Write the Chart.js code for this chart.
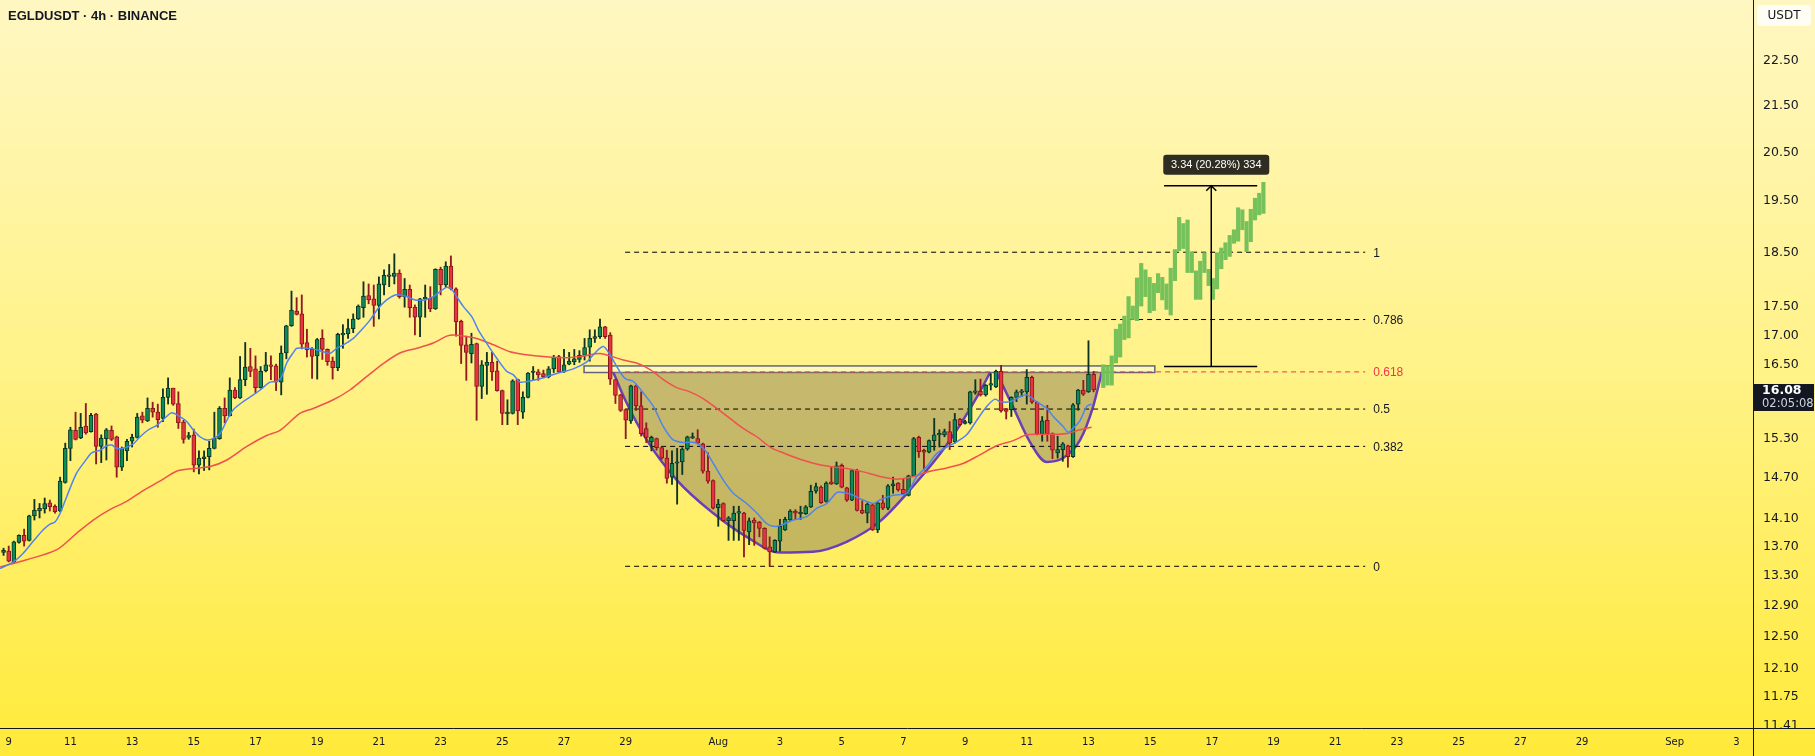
<!DOCTYPE html>
<html>
<head>
<meta charset="utf-8">
<title>EGLDUSDT 4h BINANCE</title>
<script src="https://cdn.jsdelivr.net/npm/chart.js@4.4.1/dist/chart.umd.min.js"></script>
<style>
  html, body { margin: 0; padding: 0; overflow: hidden; background: #fff7c0; }
  #wrap { width: 1815px; height: 756px; }
</style>
</head>
<body>
<div id="wrap"><canvas id="chart" width="1815" height="756"></canvas></div>
<script>
// ---- data (x in days: 1 = Jul 1, 32 = Aug 1, 63 = Sep 1) ----
const tickDays   = [9, 11, 13, 15, 17, 19, 21, 23, 25, 27, 29, 32, 34, 36, 38, 40, 42, 44, 46, 48, 50, 52, 54, 56, 58, 60, 63, 65];
const tickLabels = ['9', '11', '13', '15', '17', '19', '21', '23', '25', '27', '29', 'Aug', '3', '5', '7', '9', '11', '13', '15', '17', '19', '21', '23', '25', '27', '29', 'Sep', '3'];
const priceTicks = [22.5, 21.5, 20.5, 19.5, 18.5, 17.5, 17, 16.5, 15.3, 14.7, 14.1, 13.7, 13.3, 12.9, 12.5, 12.1, 11.75, 11.41];

// 4h candles, first one Jul 8 20:00, last one Aug 13 04:00
const candleStart = 8.8333;
const candleStep  = 1 / 6;
const candleOpen = [
  13.62, 13.64, 13.49, 13.76, 13.86, 13.79, 14.14, 14.21, 14.24, 14.33,
  14.28, 14.21, 14.63, 15.15, 15.43, 15.31, 15.50, 15.41, 15.69, 15.18,
  15.30, 15.43, 15.33, 14.86, 15.11, 15.26, 15.32, 15.66, 15.58, 15.78,
  15.72, 15.62, 15.96, 16.11, 15.86, 15.56, 15.32, 15.36, 14.89, 14.99,
  15.02, 15.15, 15.30, 15.78, 15.66, 16.08, 15.95, 16.25, 16.47, 16.43,
  16.12, 16.40, 16.50, 16.48, 16.21, 16.70, 17.17, 17.43, 17.38, 16.88,
  16.76, 16.65, 16.95, 16.76, 16.56, 16.45, 17.01, 17.03, 17.12, 17.29,
  17.49, 17.71, 17.65, 17.53, 17.90, 18.06, 18.06, 18.12, 17.69, 17.82,
  17.50, 17.32, 17.65, 17.66, 17.47, 18.19, 17.90, 18.25, 17.83, 17.25,
  16.84, 16.69, 16.86, 16.14, 16.49, 16.54, 16.40, 16.07, 15.69, 15.70,
  16.25, 15.72, 15.96, 16.37, 16.38, 16.35, 16.30, 16.43, 16.64, 16.38,
  16.51, 16.55, 16.59, 16.66, 16.80, 16.95, 16.98, 17.15, 17.01, 16.25,
  16.00, 15.76, 15.58, 16.15, 15.82, 15.46, 15.25, 15.30, 15.16, 15.00,
  14.71, 14.92, 14.94, 15.14, 15.31, 15.30, 15.22, 14.80, 14.66, 14.26,
  14.32, 14.07, 14.07, 14.18, 14.18, 13.91, 14.08, 14.05, 13.96, 13.70,
  13.63, 13.78, 13.94, 14.08, 14.21, 14.17, 14.17, 14.27, 14.50, 14.56,
  14.35, 14.64, 14.61, 14.89, 14.55, 14.37, 14.81, 14.22, 14.18, 14.30,
  13.94, 14.33, 14.25, 14.58, 14.62, 14.53, 14.44, 14.73, 15.32, 15.12,
  15.09, 15.27, 15.36, 15.36, 15.41, 15.25, 15.61, 15.54, 15.55, 16.04,
  16.06, 16.00, 16.16, 16.13, 16.39, 15.77, 15.76, 15.96, 16.04, 16.05,
  16.29, 15.88, 15.38, 15.59, 15.38, 15.08, 15.13, 15.19, 15.02, 15.85,
  16.08, 16.05, 16.34
];
const candleHigh = [
  13.68, 13.71, 13.78, 13.87, 13.95, 14.15, 14.38, 14.32, 14.40, 14.37,
  14.30, 14.71, 15.23, 15.48, 15.72, 15.70, 15.86, 15.70, 15.70, 15.36,
  15.46, 15.50, 15.34, 15.17, 15.29, 15.37, 15.70, 15.72, 15.95, 15.88,
  15.85, 16.10, 16.28, 16.11, 16.05, 15.59, 15.40, 15.45, 15.11, 15.11,
  15.26, 15.72, 15.81, 15.95, 16.28, 16.12, 16.64, 16.88, 16.78, 16.65,
  16.47, 16.71, 16.65, 16.51, 16.82, 17.18, 17.79, 17.67, 17.72, 17.11,
  16.79, 16.95, 17.10, 16.77, 16.63, 17.04, 17.19, 17.29, 17.38, 17.54,
  17.96, 17.92, 17.90, 18.05, 18.18, 18.28, 18.48, 18.18, 18.02, 17.90,
  17.54, 17.66, 17.90, 17.87, 18.20, 18.23, 18.33, 18.44, 17.85, 17.27,
  16.99, 17.04, 16.87, 16.57, 16.71, 16.71, 16.56, 16.08, 15.92, 16.25,
  16.26, 16.05, 16.37, 16.47, 16.42, 16.41, 16.47, 16.66, 16.66, 16.76,
  16.71, 16.76, 16.74, 16.95, 17.10, 17.10, 17.29, 17.16, 17.05, 16.25,
  16.01, 15.77, 16.16, 16.16, 16.05, 15.55, 15.34, 15.31, 15.17, 15.12,
  15.11, 15.15, 15.16, 15.34, 15.39, 15.44, 15.23, 15.08, 14.67, 14.38,
  14.33, 14.13, 14.28, 14.28, 14.19, 14.11, 14.11, 14.06, 13.97, 13.84,
  13.80, 14.09, 14.12, 14.23, 14.23, 14.28, 14.29, 14.59, 14.62, 14.58,
  14.64, 14.87, 14.94, 14.91, 14.56, 14.82, 14.83, 14.36, 14.33, 14.31,
  14.35, 14.44, 14.60, 14.71, 14.63, 14.68, 14.74, 15.32, 15.34, 15.14,
  15.28, 15.62, 15.44, 15.45, 15.57, 15.70, 15.62, 15.59, 16.06, 16.25,
  16.26, 16.17, 16.35, 16.41, 16.49, 15.78, 15.97, 16.08, 16.09, 16.42,
  16.31, 15.89, 15.65, 15.83, 15.39, 15.34, 15.24, 15.20, 15.86, 16.09,
  16.24, 16.91, 16.39
];
const candleLow = [
  13.58, 13.49, 13.48, 13.75, 13.71, 13.78, 14.08, 14.11, 14.18, 14.21,
  14.18, 14.20, 14.62, 14.96, 15.28, 15.30, 15.37, 15.40, 14.91, 14.93,
  14.97, 15.27, 14.71, 14.81, 14.96, 15.17, 15.31, 15.55, 15.57, 15.64,
  15.48, 15.57, 15.85, 15.83, 15.46, 15.23, 15.29, 14.79, 14.76, 14.81,
  14.82, 15.14, 15.29, 15.55, 15.66, 15.94, 15.94, 16.15, 16.30, 16.03,
  16.11, 16.38, 16.25, 16.07, 16.00, 16.60, 17.16, 17.36, 16.77, 16.63,
  16.27, 16.26, 16.59, 16.49, 16.26, 16.40, 16.78, 16.95, 17.05, 17.28,
  17.32, 17.56, 17.16, 17.29, 17.72, 17.87, 17.92, 17.66, 17.50, 17.32,
  17.01, 16.98, 17.32, 17.42, 17.46, 17.72, 17.87, 17.81, 16.99, 16.52,
  16.24, 16.53, 15.59, 15.94, 16.01, 16.24, 16.06, 15.52, 15.52, 15.69,
  15.52, 15.62, 15.95, 16.24, 16.24, 16.28, 16.28, 16.37, 16.37, 16.37,
  16.50, 16.50, 16.54, 16.58, 16.56, 16.88, 16.95, 16.95, 16.17, 15.86,
  15.73, 15.30, 15.54, 15.75, 15.34, 15.24, 15.11, 15.12, 14.98, 14.62,
  14.60, 14.31, 14.75, 15.12, 15.30, 15.22, 14.77, 14.62, 14.24, 13.99,
  14.06, 13.79, 13.79, 13.79, 13.56, 13.73, 13.72, 13.84, 13.67, 13.43,
  13.62, 13.64, 13.93, 14.07, 14.09, 14.09, 14.16, 14.26, 14.47, 14.32,
  14.34, 14.60, 14.60, 14.55, 14.35, 14.36, 14.21, 14.17, 14.04, 13.93,
  13.90, 14.23, 14.23, 14.47, 14.50, 14.45, 14.43, 14.72, 15.01, 14.82,
  15.08, 15.12, 15.17, 15.33, 15.13, 15.23, 15.50, 15.53, 15.53, 16.01,
  15.98, 15.98, 16.08, 16.12, 15.72, 15.61, 15.65, 15.89, 15.97, 15.85,
  15.86, 15.36, 15.26, 15.26, 14.99, 15.00, 14.95, 14.86, 15.01, 15.75,
  15.99, 16.04, 16.05
];
const candleClose = [
  13.65, 13.50, 13.77, 13.86, 13.78, 14.14, 14.22, 14.25, 14.32, 14.27,
  14.20, 14.65, 15.15, 15.44, 15.29, 15.48, 15.39, 15.67, 15.18, 15.31,
  15.44, 15.29, 14.86, 15.15, 15.26, 15.32, 15.64, 15.59, 15.78, 15.72,
  15.60, 15.96, 16.11, 15.85, 15.55, 15.29, 15.35, 14.89, 15.00, 15.02,
  15.15, 15.31, 15.78, 15.66, 16.08, 15.95, 16.25, 16.46, 16.39, 16.12,
  16.39, 16.50, 16.47, 16.21, 16.70, 17.17, 17.45, 17.37, 16.85, 16.75,
  16.64, 16.93, 16.76, 16.55, 16.45, 17.02, 17.04, 17.12, 17.29, 17.52,
  17.70, 17.63, 17.53, 17.92, 18.08, 18.07, 18.12, 17.69, 17.82, 17.49,
  17.32, 17.65, 17.66, 17.47, 18.19, 17.90, 18.25, 17.83, 17.24, 16.83,
  16.71, 16.85, 16.14, 16.50, 16.54, 16.38, 16.07, 15.70, 15.72, 16.23,
  15.74, 15.96, 16.36, 16.39, 16.33, 16.30, 16.43, 16.62, 16.38, 16.50,
  16.56, 16.60, 16.66, 16.79, 16.95, 16.98, 17.15, 16.98, 16.26, 15.99,
  15.75, 15.59, 16.15, 15.82, 15.38, 15.32, 15.32, 15.16, 15.00, 14.69,
  14.92, 14.94, 15.14, 15.33, 15.32, 15.23, 14.80, 14.65, 14.25, 14.31,
  14.07, 14.11, 14.18, 14.19, 13.93, 14.07, 14.04, 13.96, 13.68, 13.63,
  13.79, 13.99, 14.09, 14.21, 14.18, 14.19, 14.27, 14.50, 14.57, 14.33,
  14.62, 14.61, 14.88, 14.56, 14.37, 14.81, 14.22, 14.18, 14.31, 13.94,
  14.33, 14.25, 14.58, 14.61, 14.52, 14.46, 14.73, 15.30, 15.10, 15.09,
  15.27, 15.36, 15.38, 15.41, 15.23, 15.60, 15.52, 15.57, 16.05, 16.06,
  16.00, 16.16, 16.17, 16.39, 15.74, 15.73, 15.96, 16.05, 16.06, 16.29,
  15.88, 15.38, 15.58, 15.38, 15.12, 15.13, 15.22, 15.02, 15.84, 16.08,
  16.01, 16.34, 16.08
];

// short EMA (blue) and long EMA (red), read as (day, price) points
const blueX = [8.72, 9.15, 9.47, 9.80, 10.12, 10.34, 10.50, 10.66, 10.88, 11.20, 11.47, 11.69, 11.96, 12.18, 12.34, 12.50, 12.71, 13.04, 13.26, 13.53, 13.80, 14.12, 14.28, 14.55, 14.77, 14.98, 15.20, 15.42, 15.63, 15.85, 16.07, 16.28, 16.60, 16.93, 17.15, 17.47, 17.69, 17.85, 18.01, 18.23, 18.34, 18.66, 18.87, 19.20, 19.41, 19.63, 19.85, 20.17, 20.44, 20.71, 20.98, 21.25, 21.52, 21.68, 21.90, 22.17, 22.49, 22.76, 22.98, 23.20, 23.36, 23.52, 23.74, 24.01, 24.22, 24.49, 24.82, 25.14, 25.36, 25.57, 25.79, 26.00, 26.44, 26.87, 27.30, 27.74, 27.95, 28.27, 28.49, 28.71, 28.98, 29.25, 29.57, 29.90, 30.22, 30.54, 30.87, 31.25, 31.57, 31.84, 32.16, 32.49, 32.92, 33.25, 33.57, 33.78, 34.00, 34.43, 34.87, 35.19, 35.52, 35.84, 36.06, 36.38, 36.70, 37.03, 37.24, 37.67, 38.11, 38.43, 38.76, 39.08, 39.41, 39.73, 40.05, 40.38, 40.70, 40.97, 41.13, 41.46, 41.78, 42.00, 42.32, 42.65, 42.86, 43.18, 43.35, 43.51, 43.73, 43.94, 44.10];
const blueY = [13.40, 13.49, 13.61, 13.78, 13.94, 14.02, 14.05, 14.17, 14.42, 14.77, 14.95, 15.08, 15.12, 15.19, 15.20, 15.15, 15.15, 15.22, 15.33, 15.44, 15.51, 15.65, 15.71, 15.65, 15.57, 15.44, 15.33, 15.28, 15.30, 15.38, 15.59, 15.76, 15.89, 16.00, 16.08, 16.21, 16.22, 16.30, 16.53, 16.71, 16.78, 16.78, 16.77, 16.72, 16.69, 16.78, 16.84, 16.95, 17.10, 17.27, 17.48, 17.63, 17.72, 17.72, 17.69, 17.63, 17.63, 17.69, 17.78, 17.86, 17.82, 17.69, 17.51, 17.33, 17.10, 16.87, 16.61, 16.39, 16.33, 16.21, 16.22, 16.24, 16.30, 16.37, 16.43, 16.55, 16.67, 16.81, 16.67, 16.47, 16.27, 16.22, 16.03, 15.81, 15.49, 15.28, 15.24, 15.24, 15.12, 14.92, 14.67, 14.47, 14.32, 14.18, 14.03, 13.99, 14.00, 14.08, 14.13, 14.25, 14.32, 14.48, 14.48, 14.44, 14.37, 14.32, 14.37, 14.44, 14.47, 14.72, 14.87, 15.07, 15.17, 15.25, 15.36, 15.59, 15.81, 15.93, 15.89, 15.89, 15.97, 16.00, 15.89, 15.78, 15.65, 15.49, 15.40, 15.47, 15.59, 15.81, 15.85];
const redX = [8.72, 9.58, 10.56, 11.20, 11.74, 12.28, 12.82, 13.36, 13.90, 14.44, 14.98, 15.53, 16.07, 16.72, 17.36, 17.79, 18.44, 18.87, 19.52, 20.06, 20.60, 21.14, 21.68, 22.23, 22.76, 23.20, 23.41, 23.74, 24.17, 24.71, 25.25, 25.79, 26.33, 27.09, 27.63, 28.17, 28.49, 28.92, 29.35, 29.79, 30.22, 30.65, 31.08, 31.51, 31.95, 32.38, 32.81, 33.25, 33.68, 34.00, 34.54, 35.08, 35.62, 36.16, 36.70, 37.24, 37.78, 38.32, 38.86, 39.41, 39.95, 40.48, 41.02, 41.56, 42.00, 42.32, 42.65, 42.97, 43.30, 43.73, 44.10];
const redY = [13.42, 13.52, 13.66, 13.89, 14.08, 14.23, 14.35, 14.51, 14.65, 14.80, 14.84, 14.87, 14.97, 15.18, 15.35, 15.43, 15.70, 15.78, 15.92, 16.08, 16.30, 16.52, 16.70, 16.78, 16.87, 16.99, 17.01, 16.99, 16.95, 16.84, 16.72, 16.67, 16.64, 16.62, 16.65, 16.69, 16.65, 16.58, 16.53, 16.42, 16.25, 16.12, 16.05, 15.94, 15.78, 15.62, 15.46, 15.33, 15.17, 15.10, 15.00, 14.92, 14.87, 14.84, 14.79, 14.72, 14.68, 14.72, 14.80, 14.85, 14.92, 15.05, 15.19, 15.27, 15.36, 15.37, 15.37, 15.37, 15.38, 15.44, 15.48];

// projected bars (light green)
const greenStart = 44.48;
const greenStep  = 0.1366;
const greenLow  = [16.12, 16.16, 16.16, 16.53, 16.63, 16.93, 16.96, 17.28, 17.26, 17.52, 17.69, 17.40, 17.44, 17.76, 17.63, 17.46, 17.36, 17.98, 18.54, 18.58, 18.13, 18.13, 17.64, 17.64, 18.13, 17.89, 17.64, 17.83, 18.20, 18.37, 18.43, 18.68, 18.72, 18.94, 18.52, 18.71, 19.13, 19.23, 19.26];
const greenHigh = [16.50, 16.48, 16.65, 17.11, 17.20, 17.34, 17.69, 17.52, 18.03, 18.30, 18.18, 18.04, 17.93, 18.11, 18.04, 17.92, 18.21, 18.56, 19.18, 19.06, 19.13, 18.52, 18.16, 18.34, 18.50, 18.19, 18.02, 18.50, 18.59, 18.69, 18.83, 18.94, 19.37, 19.33, 19.10, 19.34, 19.56, 19.66, 19.88];

// fib retracement
const fibLabels = ['1', '0.786', '0.618', '0.5', '0.382', '0'];
const fibPrices = [18.51, 17.28, 16.38, 15.77, 15.18, 13.43];
const fibX      = [28.98, 52.97];

// cup and handle outline
const cupX    = [28.60, 28.98, 29.68, 30.65, 31.83, 32.92, 34.00, 35.07, 36.16, 37.24, 38.31, 39.40, 40.48, 40.81];
const cupY    = [16.37, 15.92, 15.28, 14.67, 14.18, 13.84, 13.62, 13.63, 13.77, 14.06, 14.57, 15.20, 16.05, 16.37];
const handleX = [41.02, 41.55, 42.10, 42.65, 43.18, 43.73, 44.15, 44.43];
const handleY = [16.37, 15.81, 15.25, 14.94, 15.00, 15.28, 15.81, 16.37];
const rimPrice = 16.38;

// resistance box and price-range measure
const zoneX = [27.65, 46.15];
const zoneY = [16.37, 16.48];
const measureX   = [46.45, 49.47];
const measureMid = 47.98;
const measureLow = 16.47;
const measureHigh = 19.81;
const measureText = '3.34 (20.28%) 334';

const lastPrice = 16.08;
const lastPriceText = '16.08';
const countdownText = '02:05:08';

// ---- styles ----
const TEXT      = '#131722';
const UP_BODY   = '#0c8a5a';
const UP_EDGE   = '#0e3324';
const DOWN_BODY = '#e5343e';
const DOWN_EDGE = '#86171c';
const UP_WICK   = '#0e3324';
const DOWN_WICK = '#901a20';
const BLUE_MA   = '#4f84ee';
const RED_MA    = '#f0514e';
const PROJ      = '#76c15a';
const CUP_LINE  = '#6a3fb6';
const CUP_FILL  = 'rgba(140, 128, 88, 0.5)';
const FIB_RED   = '#f23645';

function bgGradient(ctx, h) {
    const g = ctx.createLinearGradient(0, 0, 0, h);
    g.addColorStop(0, '#fff7c2');
    g.addColorStop(0.5, '#fff286');
    g.addColorStop(1, '#ffea3a');
    return g;
}

const candleX = candleOpen.map((_, i) => candleStart + i * candleStep);
const isUp    = candleOpen.map((o, i) => candleClose[i] >= o);
const pts     = (xs, ys) => xs.map((x, i) => ({ x: x, y: ys[i] }));

const datasets = [
    // measure tool
    { type: 'line', data: [{ x: measureMid, y: measureLow }, { x: measureMid, y: measureHigh }], borderColor: '#000', borderWidth: 1.5, pointRadius: 0, order: 0 },
    { type: 'line', data: [{ x: measureX[0], y: measureLow }, { x: measureX[1], y: measureLow }], borderColor: '#000', borderWidth: 1.5, pointRadius: 0, order: 0 },
    { type: 'line', data: [{ x: measureX[0], y: measureHigh }, { x: measureX[1], y: measureHigh }], borderColor: '#000', borderWidth: 1.5, pointRadius: 0, order: 0 },
    // moving averages
    { type: 'line', data: pts(blueX, blueY), borderColor: BLUE_MA, borderWidth: 1.5, pointRadius: 0, tension: 0.3, order: 1 },
    { type: 'line', data: pts(redX, redY), borderColor: RED_MA, borderWidth: 1.5, pointRadius: 0, tension: 0.3, order: 2 },
    // candles
    {
        type: 'bar', grouped: false, order: 3,
        data: candleX.map((x, i) => ({ x: x, y: [candleOpen[i], candleClose[i]] })),
        backgroundColor: isUp.map(u => u ? UP_BODY : DOWN_BODY),
        borderColor: isUp.map(u => u ? UP_EDGE : DOWN_EDGE),
        borderWidth: 1, borderSkipped: false, barThickness: 4, minBarLength: 1.5
    },
    {
        type: 'bar', grouped: false, order: 4,
        data: candleX.map((x, i) => ({ x: x, y: [candleLow[i], candleHigh[i]] })),
        backgroundColor: isUp.map(u => u ? UP_WICK : DOWN_WICK),
        borderWidth: 0, barThickness: 1.2
    },
    // projection
    {
        type: 'bar', grouped: false, order: 5,
        data: greenLow.map((lo, i) => ({ x: greenStart + i * greenStep, y: [lo, greenHigh[i]] })),
        backgroundColor: PROJ, borderWidth: 0, barThickness: 3.5
    },
    // cup & handle
    { type: 'line', data: pts(cupX, cupY), borderColor: CUP_LINE, borderWidth: 2.5, pointRadius: 0, cubicInterpolationMode: 'monotone', fill: { value: rimPrice }, backgroundColor: CUP_FILL, order: 10 },
    { type: 'line', data: pts(handleX, handleY), borderColor: CUP_LINE, borderWidth: 2.5, pointRadius: 0, cubicInterpolationMode: 'monotone', fill: { value: rimPrice }, backgroundColor: CUP_FILL, order: 11 }
];

fibPrices.forEach((p, i) => {
    datasets.push({
        type: 'line',
        data: [{ x: fibX[0], y: p }, { x: fibX[1], y: p }],
        borderColor: fibLabels[i] === '0.618' ? FIB_RED : '#000',
        borderWidth: 1, borderDash: [5, 4], pointRadius: 0, order: 6
    });
});

// background
const backdrop = {
    id: 'backdrop',
    beforeDraw(chart) {
        const { ctx, width, height } = chart;
        ctx.save();
        ctx.fillStyle = bgGradient(ctx, height);
        ctx.fillRect(0, 0, width, height);
        ctx.restore();
    }
};

// resistance box
const zoneBox = {
    id: 'zoneBox',
    beforeDatasetsDraw(chart) {
        const { ctx, scales: { x, y } } = chart;
        const x0 = x.getPixelForValue(zoneX[0]);
        const x1 = x.getPixelForValue(zoneX[1]);
        const y0 = y.getPixelForValue(zoneY[1]);
        const y1 = y.getPixelForValue(zoneY[0]);
        ctx.save();
        ctx.fillStyle = 'rgba(255, 255, 255, 0.45)';
        ctx.fillRect(x0, y0, x1 - x0, y1 - y0);
        ctx.strokeStyle = '#60657a';
        ctx.lineWidth = 1.5;
        ctx.strokeRect(x0, y0, x1 - x0, y1 - y0);
        ctx.restore();
    }
};

function roundRect(ctx, x, y, w, h, r) {
    ctx.beginPath();
    ctx.moveTo(x + r, y);
    ctx.arcTo(x + w, y, x + w, y + h, r);
    ctx.arcTo(x + w, y + h, x, y + h, r);
    ctx.arcTo(x, y + h, x, y, r);
    ctx.arcTo(x, y, x + w, y, r);
    ctx.closePath();
}

// texts, axis lines, labels
const overlay = {
    id: 'overlay',
    afterDraw(chart) {
        const { ctx, width, height, chartArea, scales: { x, y } } = chart;
        ctx.save();

        // hide the part of the lowest price label under the time axis
        ctx.fillStyle = bgGradient(ctx, height);
        ctx.fillRect(chartArea.right + 0.5, chartArea.bottom + 0.5, width, height);

        ctx.strokeStyle = TEXT;
        ctx.lineWidth = 1;
        ctx.beginPath();
        ctx.moveTo(0, chartArea.bottom + 0.5);
        ctx.lineTo(width, chartArea.bottom + 0.5);
        ctx.moveTo(chartArea.right + 0.5, 0);
        ctx.lineTo(chartArea.right + 0.5, height);
        ctx.stroke();

        // title
        ctx.fillStyle = TEXT;
        ctx.font = "bold 13px 'Liberation Sans', Arial, sans-serif";
        ctx.textBaseline = 'middle';
        ctx.textAlign = 'left';
        ctx.fillText('EGLDUSDT · 4h · BINANCE', 8, 16);

        // fib labels
        ctx.font = "12px 'Liberation Sans', Arial, sans-serif";
        const fx = x.getPixelForValue(fibX[1]) + 8;
        fibPrices.forEach((p, i) => {
            ctx.fillStyle = fibLabels[i] === '0.618' ? FIB_RED : TEXT;
            ctx.fillText(fibLabels[i], fx, y.getPixelForValue(p) + 1);
        });

        // measure arrow head and label
        const mx = x.getPixelForValue(measureMid);
        const my = y.getPixelForValue(measureHigh);
        ctx.strokeStyle = '#000';
        ctx.lineWidth = 1.5;
        ctx.beginPath();
        ctx.moveTo(mx - 5, my + 5);
        ctx.lineTo(mx, my);
        ctx.lineTo(mx + 5, my + 5);
        ctx.stroke();
        const lx = mx + 5;
        ctx.fillStyle = 'rgba(36, 34, 26, 0.95)';
        roundRect(ctx, lx - 53, my - 31, 106, 20, 3);
        ctx.fill();
        ctx.fillStyle = '#ffffff';
        ctx.font = "11px 'Liberation Sans', Arial, sans-serif";
        ctx.textAlign = 'center';
        ctx.fillText(measureText, lx, my - 21);

        // currency badge
        ctx.fillStyle = '#fffdf4';
        roundRect(ctx, chartArea.right + 4, 5, 54, 21, 4);
        ctx.fill();
        ctx.fillStyle = TEXT;
        ctx.font = "12px 'DejaVu Sans', sans-serif";
        ctx.fillText('USDT', chartArea.right + 31, 16);

        // last price badge
        const py = y.getPixelForValue(lastPrice);
        ctx.fillStyle = TEXT;
        ctx.fillRect(chartArea.right + 1, py - 6, 60, 27);
        ctx.textAlign = 'left';
        ctx.fillStyle = '#ffffff';
        ctx.font = "bold 12.5px 'DejaVu Sans', sans-serif";
        ctx.fillText(lastPriceText, chartArea.right + 9, py + 1);
        ctx.fillStyle = '#d1d4dc';
        ctx.font = "11.5px 'DejaVu Sans', sans-serif";
        ctx.fillText(countdownText, chartArea.right + 9, py + 14);

        ctx.restore();
    }
};

const chart = new Chart(document.getElementById('chart'), {
    type: 'line',
    data: { datasets: datasets },
    options: {
        responsive: false,
        animation: false,
        events: [],
        layout: { padding: 0 },
        plugins: {
            legend: { display: false },
            tooltip: { enabled: false }
        },
        scales: {
            x: {
                type: 'linear',
                min: 8.718,
                max: 65.54,
                bounds: 'data',
                offset: false,
                grid: { display: false, drawTicks: false, offset: false },
                border: { display: false },
                afterBuildTicks: (s) => { s.ticks = tickDays.map(v => ({ value: v })); },
                afterFit: (s) => { s.height = 28; s.paddingLeft = 0; s.paddingRight = 0; },
                ticks: {
                    autoSkip: false,
                    maxRotation: 0,
                    padding: 8,
                    color: TEXT,
                    font: { family: 'DejaVu Sans', size: 10 },
                    callback: (v) => tickLabels[tickDays.indexOf(v)]
                }
            },
            y: {
                type: 'logarithmic',
                position: 'right',
                min: 11.385,
                max: 23.95,
                bounds: 'data',
                grid: { display: false, drawTicks: false },
                border: { display: false },
                afterBuildTicks: (s) => { s.ticks = priceTicks.map(v => ({ value: v })); },
                afterFit: (s) => { s.width = 62; s.paddingTop = 0; s.paddingBottom = 0; },
                ticks: {
                    padding: 10,
                    color: TEXT,
                    font: { family: 'DejaVu Sans', size: 12.5 },
                    callback: (v) => Number(v).toFixed(2)
                }
            }
        }
    },
    plugins: [backdrop, zoneBox, overlay]
});
</script>
</body>
</html>
